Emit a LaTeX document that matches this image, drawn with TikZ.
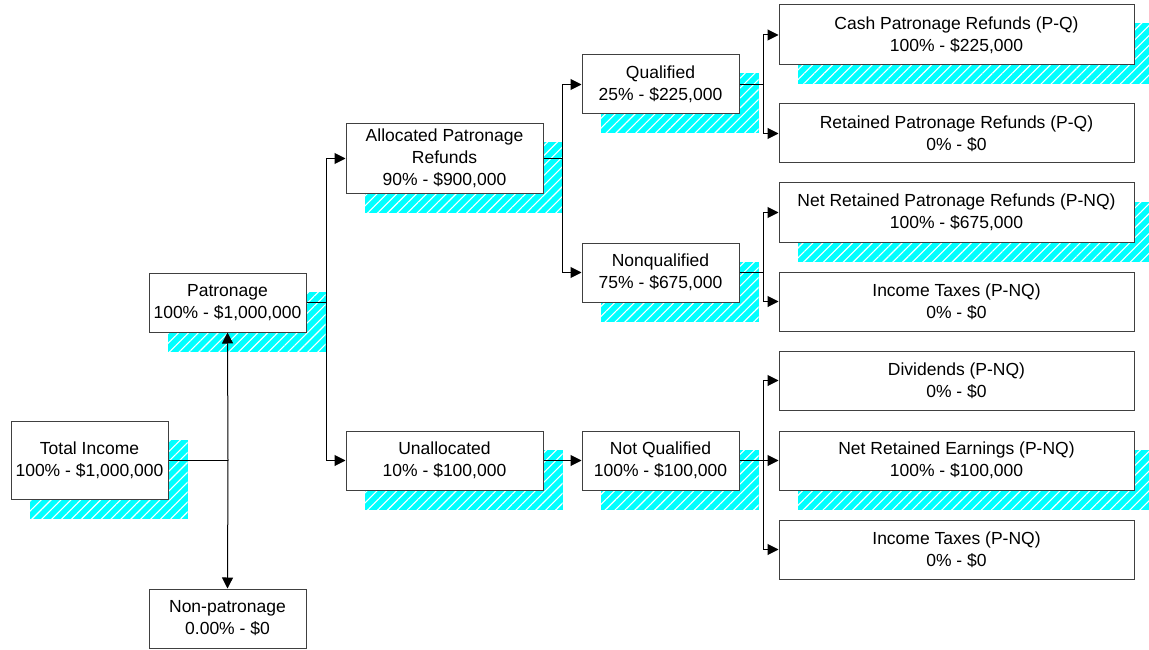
\documentclass[tikz,border=0pt]{standalone}
\usepackage{fontspec}
\setmainfont{Liberation Sans}
\usetikzlibrary{arrows.meta,patterns.meta,backgrounds}
\definecolor{shcyan}{RGB}{0,255,255}
\begin{document}
\begin{tikzpicture}[x=1pt,y=-1pt,
  box/.style={draw=black!75, fill=white, line width=1pt, inner sep=0pt, align=center,
    minimum width=157pt, minimum height=59pt, font=\fontsize{17.5}{22}\selectfont},
  wide/.style={minimum width=355pt},
  conn/.style={draw=black, line width=1pt},
  arr/.style={conn, -{Triangle[length=11pt,width=11pt]}},
  shadowstyle/.style={preaction={fill=shcyan}, pattern={Lines[angle=45,distance=7pt,line width=1.1pt]}, pattern color=white}]
\useasboundingbox (0,0) rectangle (1149,650);
\newcommand\shadowof[1]{\path[shadowstyle] ([shift={(19pt,-19pt)}]#1.south west) rectangle ([shift={(19pt,-19pt)}]#1.north east);}

\node[box, minimum height=78pt] (ti) at (89.5,460) {Total Income\\100\% - \$1,000,000};
\node[box] (np) at (227.5,618.5) {Non-patronage\\0.00\% - \$0};
\node[box] (pat) at (227.5,302.5) {Patronage\\100\% - \$1,000,000};
\node[box, minimum width=197pt, minimum height=69pt] (alloc) at (444.5,158.5) {Allocated Patronage\\Refunds\\90\% - \$900,000};
\node[box, minimum width=197pt] (unal) at (444.5,460.5) {Unallocated\\10\% - \$100,000};
\node[box] (qual) at (660.5,84.5) {Qualified\\25\% - \$225,000};
\node[box] (nonq) at (660.5,272.5) {Nonqualified\\75\% - \$675,000};
\node[box] (notq) at (660.5,460.5) {Not Qualified\\100\% - \$100,000};
\node[box, wide, minimum height=60pt] (cash) at (956.5,35) {Cash Patronage Refunds (P-Q)\\100\% - \$225,000};
\node[box, wide] (ret) at (956.5,133.5) {Retained Patronage Refunds (P-Q)\\0\% - \$0};
\node[box, wide] (nrpr) at (956.5,212.5) {Net Retained Patronage Refunds (P-NQ)\\100\% - \$675,000};
\node[box, wide] (itax1) at (956.5,301.5) {Income Taxes (P-NQ)\\0\% - \$0};
\node[box, wide] (div) at (956.5,380.5) {Dividends (P-NQ)\\0\% - \$0};
\node[box, wide] (nre) at (956.5,460.5) {Net Retained Earnings (P-NQ)\\100\% - \$100,000};
\node[box, wide] (itax2) at (956.5,549.5) {Income Taxes (P-NQ)\\0\% - \$0};

\begin{scope}[on background layer]
\shadowof{ti}\shadowof{pat}\shadowof{alloc}\shadowof{unal}\shadowof{qual}
\shadowof{nonq}\shadowof{notq}\shadowof{cash}\shadowof{nrpr}\shadowof{nre}
\end{scope}

\coordinate (j1) at (228,460);
\coordinate (j2) at (326,302.5);
\coordinate (j3) at (562,158.5);
\coordinate (j4) at (763,84.5);
\coordinate (j5) at (763,272.5);
\coordinate (j6) at (763,460.5);

\draw[conn] (ti.east |- j1) -- (j1);
\draw[arr] (j1) -- (pat.south);
\draw[arr] (j1) -- (np.north);
\draw[conn] (pat.east) -- (j2);
\draw[arr] (j2) |- (alloc.west);
\draw[arr] (j2) |- (unal.west);
\draw[conn] (alloc.east) -- (j3);
\draw[arr] (j3) |- (qual.west);
\draw[arr] (j3) |- (nonq.west);
\draw[arr] (unal.east) -- (notq.west);
\draw[conn] (qual.east) -- (j4);
\draw[arr] (j4) |- (cash.west);
\draw[arr] (j4) |- (ret.west);
\draw[conn] (nonq.east) -- (j5);
\draw[arr] (j5) |- (nrpr.west);
\draw[arr] (j5) |- (itax1.west);
\draw[conn] (notq.east) -- (j6);
\draw[arr] (j6) |- (div.west);
\draw[arr] (j6) |- (nre.west);
\draw[arr] (j6) |- (itax2.west);
\end{tikzpicture}
\end{document}
